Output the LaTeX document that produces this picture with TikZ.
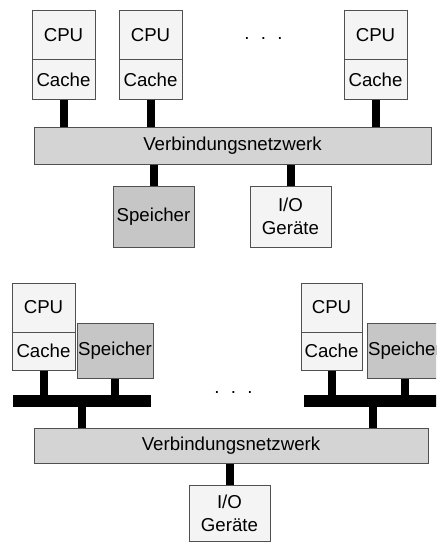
\documentclass[tikz,border=0pt]{standalone}
\usepackage{fontspec}
\setmainfont{Liberation Sans}
\definecolor{boxgray}{HTML}{F4F4F4}
\definecolor{netgray}{HTML}{D4D4D4}
\definecolor{memgray}{HTML}{C6C6C6}
\definecolor{edgegray}{HTML}{505050}
\tikzset{
  unit/.style={draw=edgegray, line width=0.75pt, fill=boxgray, inner sep=0pt,
    font=\fontsize{14}{17}\selectfont, align=center},
  memory/.style={unit, fill=memgray},
  network/.style={unit, fill=netgray},
  bus/.style={fill=black, inner sep=0pt, minimum height=9pt},
  link/.style={line width=6pt}
}
\begin{document}
\begin{tikzpicture}[x=0.75pt,y=-0.75pt]
   \clip (0,0) rectangle (436,542);
   % oben: gemeinsamer Speicher
   \node[unit, minimum width=47.25pt, minimum height=36.75pt] (cpuA) at (63.5,35.5) {CPU};
   \node[unit, minimum width=47.25pt, minimum height=29.25pt] (cacheA) at (63.5,79.5) {Cache};
   \node[unit, minimum width=47.25pt, minimum height=36.75pt] (cpuB) at (150.5,35.5) {CPU};
   \node[unit, minimum width=47.25pt, minimum height=29.25pt] (cacheB) at (150.5,79.5) {Cache};
   \node[unit, minimum width=47.25pt, minimum height=36.75pt] (cpuC) at (375.5,35.5) {CPU};
   \node[unit, minimum width=47.25pt, minimum height=29.25pt] (cacheC) at (375.5,79.5) {Cache};
   \node[anchor=base, font=\fontsize{14}{17}\selectfont] (dotsA) at (263.5,40) {.\hspace{8.5pt}.\hspace{8.5pt}.};
   \node[network, minimum width=297.75pt, minimum height=27.75pt] (netA) at (232.5,145.5) {Verbindungsnetzwerk};
   \node[memory, minimum width=60.75pt, minimum height=45.75pt] (memA) at (153.5,216.5) {Speicher};
   \node[unit, minimum width=60.75pt, minimum height=45.75pt] (ioA) at (290.5,216.5) {I/O\\Geräte};
   \draw[link] (cacheA.south) -- (cacheA.south |- netA.north);
   \draw[link] (cacheB.south) -- (cacheB.south |- netA.north);
   \draw[link] (cacheC.south) -- (cacheC.south |- netA.north);
   \draw[link] (memA.north) -- (memA.north |- netA.south);
   \draw[link] (ioA.north) -- (ioA.north |- netA.south);
   % unten: verteilter Speicher
   \node[unit, minimum width=47.25pt, minimum height=36.75pt] (cpuD) at (43.5,307.5) {CPU};
   \node[unit, minimum width=47.25pt, minimum height=28.5pt] (cacheD) at (43.5,351) {Cache};
   \node[memory, minimum width=57pt, minimum height=41.25pt] (memD) at (115,350.5) {Speicher};
   \node[bus, minimum width=103.5pt] (busD) at (82,401) {};
   \node[unit, minimum width=45.75pt, minimum height=36.75pt] (cpuE) at (331.5,307.5) {CPU};
   \node[unit, minimum width=45.75pt, minimum height=28.5pt] (cacheE) at (331.5,351) {Cache};
   \node[memory, minimum width=57pt, minimum height=41.25pt] (memE) at (405,350.5) {Speicher};
   \node[bus, minimum width=103.5pt] (busE) at (373,401) {};
   \node[anchor=base, font=\fontsize{14}{17}\selectfont] (dotsB) at (233.5,393) {.\hspace{8.5pt}.\hspace{8.5pt}.};
   \node[network, minimum width=295.5pt, minimum height=26.25pt] (netB) at (231,445.5) {Verbindungsnetzwerk};
   \node[unit, minimum width=60.75pt, minimum height=42pt] (ioB) at (229.5,513) {I/O\\Geräte};
   \draw[link] (cacheD.south) -- (cacheD.south |- busD.north);
   \draw[link] (memD.south) -- (memD.south |- busD.north);
   \draw[link] (busD.south) -- (busD.south |- netB.north);
   \draw[link] (cacheE.south) -- (cacheE.south |- busE.north);
   \draw[link] (memE.south) -- (memE.south |- busE.north);
   \draw[link] (busE.south) -- (busE.south |- netB.north);
   \draw[link] (ioB.north) -- (ioB.north |- netB.south);
\end{tikzpicture}
\end{document}
